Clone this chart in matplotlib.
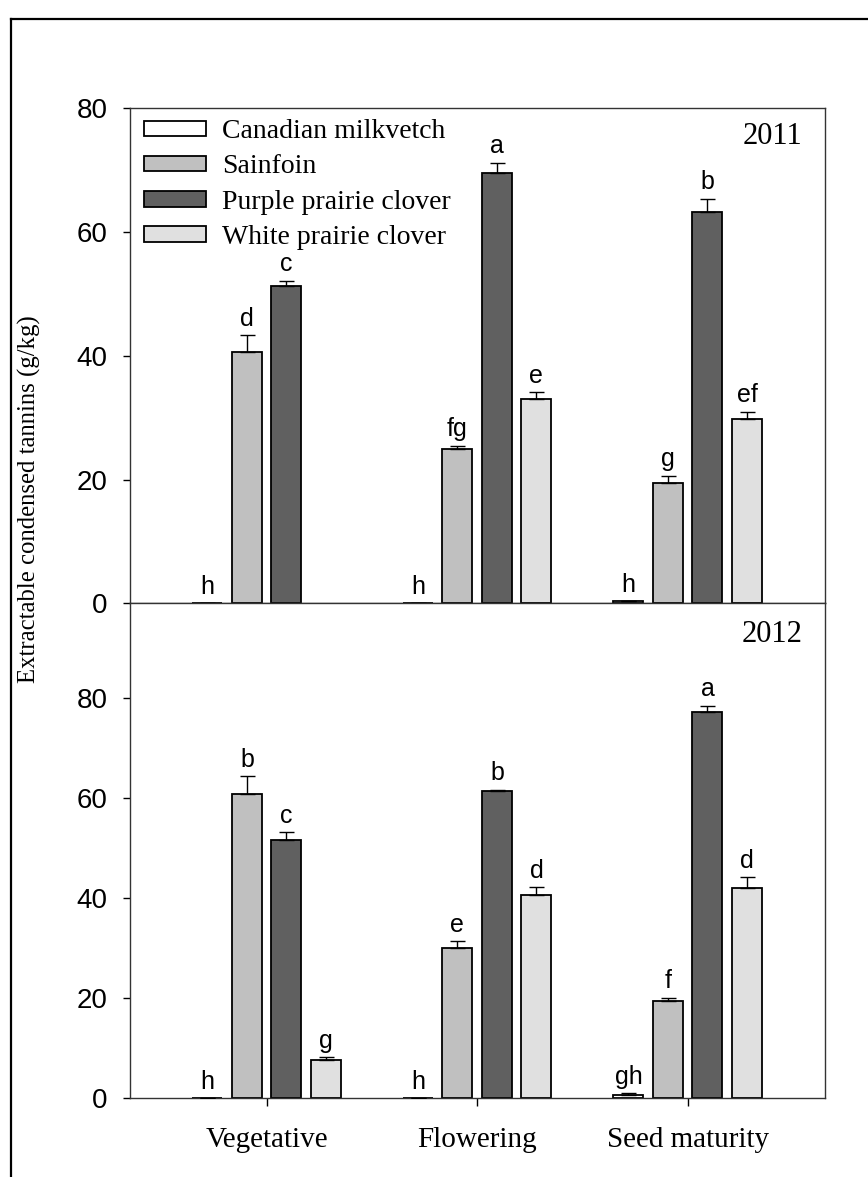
import numpy as np
import matplotlib
matplotlib.use("Agg")
import matplotlib.pyplot as plt
from matplotlib.lines import Line2D

# ---- data -------------------------------------------------------------
stages = ["Vegetative", "Flowering", "Seed maturity"]
species = ["Canadian milkvetch", "Sainfoin", "Purple prairie clover",
           "White prairie clover"]
colors = ["#ffffff", "#c0c0c0", "#606060", "#e0e0e0"]

# 2011 means / standard errors (rows: species, cols: stages)
mean_2011 = [[0.0, 0.0, 0.3],
             [40.6, 25.0, 19.5],
             [51.3, 69.5, 63.3],
             [np.nan, 33.0, 29.8]]
se_2011 = [[0.0, 0.0, 0.0],
           [2.7, 0.5, 1.1],
           [0.8, 1.7, 2.1],
           [np.nan, 1.1, 1.1]]
letters_2011 = [["h", "h", "h"],
                ["d", "fg", "g"],
                ["c", "a", "b"],
                ["", "e", "ef"]]

# 2012 means / standard errors
mean_2012 = [[0.0, 0.0, 0.7],
             [60.8, 30.0, 19.5],
             [51.7, 61.5, 77.3],
             [7.6, 40.6, 42.1]]
se_2012 = [[0.0, 0.0, 0.3],
           [3.6, 1.4, 0.6],
           [1.5, 0.2, 1.2],
           [0.6, 1.6, 2.1]]
letters_2012 = [["h", "h", "gh"],
                ["b", "e", "f"],
                ["c", "b", "a"],
                ["g", "d", "d"]]

years = ["2011", "2012"]
yticks = [0, 20, 40, 60, 80]

# ---- layout -----------------------------------------------------------
W, H = 868, 1177
fig = plt.figure(figsize=(W / 100, H / 100), dpi=100)

serif = "Liberation Serif"
sans = "Liberation Sans"

ax_l, ax_r = 130 / W, 825 / W
y_top, y_mid, y_bot = 108.3, 603.3, 1098.3
ax_top = fig.add_axes([ax_l, 1 - y_mid / H, ax_r - ax_l, (y_mid - y_top) / H])
ax_bot = fig.add_axes([ax_l, 1 - y_bot / H, ax_r - ax_l, (y_bot - y_mid) / H])

x = np.arange(len(stages))
step = 0.1876
width = 0.1425
offsets = (np.arange(len(species)) - 1.5) * step

# (axes, means, errors, letters, y-limits, year label, year label position)
panels = [(ax_top, mean_2011, se_2011, letters_2011, (0, 80), years[0],
           (0.968, 0.927)),
          (ax_bot, mean_2012, se_2012, letters_2012, (0, 99), years[1],
           (0.968, 0.921))]

for ax, means, ses, letters, ylim, year, ypos in panels:
    for i, (name, col) in enumerate(zip(species, colors)):
        m = np.array(means[i], dtype=float)
        s = np.array(ses[i], dtype=float)
        xs = x + offsets[i]
        ax.bar(xs, m, width, color=col, edgecolor="black", linewidth=1.3,
               label=name, zorder=2)
        ok = ~np.isnan(m)
        ax.errorbar(xs[ok], m[ok], yerr=[np.zeros(ok.sum()), s[ok]],
                    fmt="none", ecolor="black", elinewidth=1.0,
                    capsize=5.4, capthick=1.0, zorder=3)
        for j in range(len(stages)):
            if letters[i][j]:
                ax.annotate(letters[i][j], (xs[j], m[j] + s[j]),
                            xytext=(0, 7), textcoords="offset points",
                            ha="center", va="baseline", fontsize=18,
                            family=sans)
    ax.set_xlim(-0.649, 2.652)
    ax.set_ylim(*ylim)
    ax.set_yticks(yticks)
    ax.set_yticklabels([str(t) for t in yticks], family=sans, fontsize=20)
    ax.tick_params(axis="y", direction="out", length=5, width=1.0, pad=11)
    for sp in ax.spines.values():
        sp.set_linewidth(1.0)
        sp.set_color("#333333")
    ax.text(ypos[0], ypos[1], year, transform=ax.transAxes, family=serif,
            fontsize=22, ha="right", va="baseline")

ax_top.set_xticks([])
ax_bot.set_xticks(x)
ax_bot.set_xticklabels(stages, family=serif, fontsize=21)
ax_bot.tick_params(axis="x", direction="out", length=5.5, width=1.0, pad=15.5)

leg = ax_top.legend(loc="upper left", bbox_to_anchor=(0.02, 0.978),
                    frameon=False, borderaxespad=0, borderpad=0,
                    prop={"family": serif, "size": 20},
                    handlelength=2.23, handleheight=0.47,
                    handletextpad=0.58, labelspacing=0.37)

fig.text(29 / W, 1 - 499 / H, "Extractable condensed tannins (g/kg)",
         rotation=90, ha="center", va="center", family=serif, fontsize=17.8)

# outer frame (top and left edges)
fig.add_artist(Line2D([11 / W, 1.0], [1 - 19 / H, 1 - 19 / H],
                      color="black", linewidth=1.6))
fig.add_artist(Line2D([11 / W, 11 / W], [1 - 19 / H, 0.0],
                      color="black", linewidth=1.6))

fig.savefig("out.png", dpi=100)
